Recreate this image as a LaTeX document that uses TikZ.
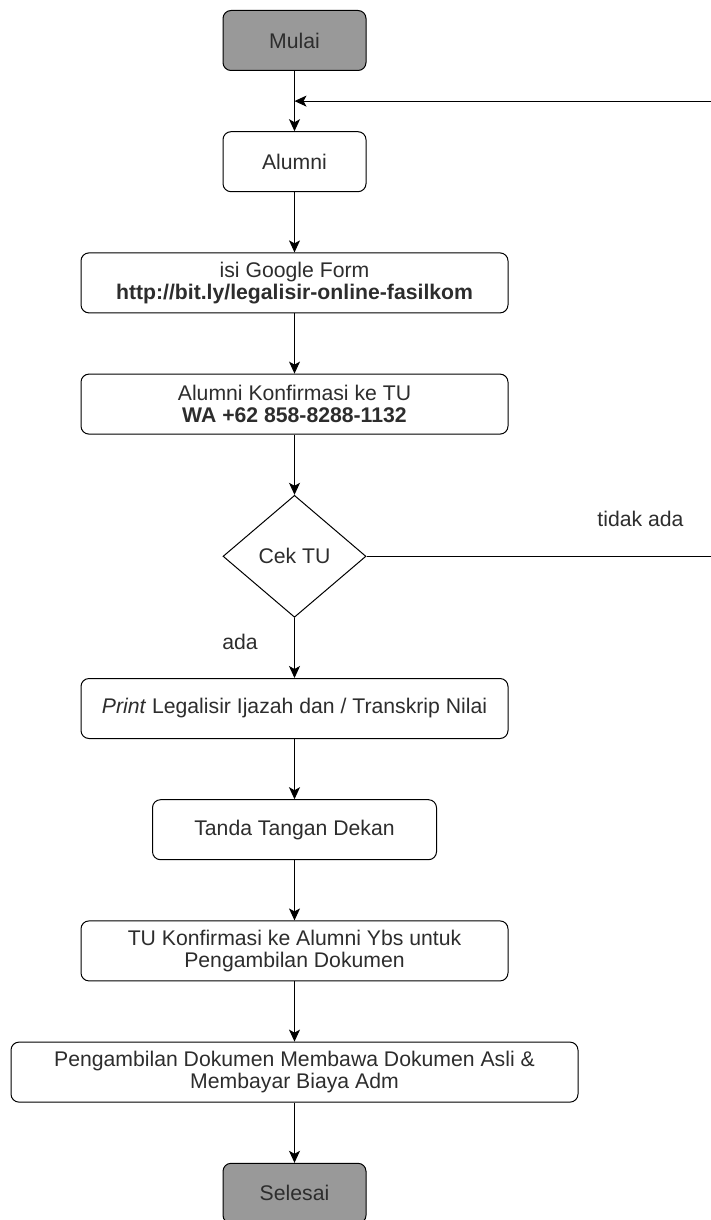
\documentclass[tikz,border=0pt]{standalone}
\usepackage{fontspec}
\setmainfont{Liberation Sans}
\usetikzlibrary{positioning, arrows.meta, calc, shapes.geometric}
\definecolor{FlowGray}{RGB}{153, 153, 153}
\definecolor{FlowText}{RGB}{45, 45, 45}
\definecolor{FlowLine}{RGB}{0, 0, 0}

\begin{document}
\begin{tikzpicture}[
    % Global Styles
    node distance=60.2pt,
    box/.style={
        rectangle,
        rounded corners=8pt,
        draw=FlowLine,         % Black Border
        line width=1pt,
        fill=white,
        text=FlowText,         % Dark Grey Text
        align=center,
        inner sep=0pt,
        minimum height=60pt,
        minimum width=427pt,
        font=\fontsize{21.2}{22}\selectfont
    },
    terminal/.style={
        box,
        fill=FlowGray,         % Grey Start / End
        minimum width=143pt
    },
    decision/.style={
        diamond,
        draw=FlowLine,
        line width=1pt,
        fill=white,
        text=FlowText,
        inner sep=0pt,
        minimum width=143pt,
        minimum height=122pt,
        font=\fontsize{21.2}{22}\selectfont
    },
    arrow/.style={
        ->,
        >={Stealth[length=12pt,width=11pt,inset=3pt]},
        line width=1pt,
        draw=FlowLine
    },
    edge_label/.style={
        text=FlowText,
        inner sep=0pt,
        font=\fontsize{21.2}{22}\selectfont
    }
]

    % page frame
    \useasboundingbox (0pt,0pt) rectangle (711pt,-1220pt);
    \clip (0pt,0pt) rectangle (711pt,-1220pt);

    % --- Placement of Nodes ---

    \node[terminal] (mulai) at (294.5pt,-40.5pt) {Mulai};
    \node[box, minimum width=143pt, below=of mulai] (alumni) {Alumni};
    \node[box, below=of alumni] (form) {isi Google Form\\\textbf{http://bit.ly/legalisir-online-fasilkom}};
    \node[box, below=of form] (konfirmasi) {Alumni Konfirmasi ke TU\\\textbf{WA +62 858-8288-1132}};
    \node[decision, below=of konfirmasi] (cek) {Cek TU};
    \node[box, below=of cek] (print) {\textit{Print} Legalisir Ijazah dan / Transkrip Nilai};
    \node[box, minimum width=284pt, below=of print] (ttd) {Tanda Tangan Dekan};
    \node[box, below=of ttd] (tu_info) {TU Konfirmasi ke Alumni Ybs untuk\\Pengambilan Dokumen};
    \node[box, minimum width=567pt, below=of tu_info] (ambil) {Pengambilan Dokumen Membawa Dokumen Asli \&\\Membayar Biaya Adm};
    \node[terminal, below=of ambil] (selesai) {Selesai};

    % Branch labels
    \node[edge_label] (ada) at ($(cek.south)+(-54.5pt,-24pt)$) {ada};
    \node[edge_label] (tidak) at ($(cek.east)+(274pt,37pt)$) {tidak ada};

    % Return point (between Mulai and Alumni) and right margin
    \coordinate (kembali) at ($(mulai.south)!0.5!(alumni.north)$);
    \coordinate (tepi) at (712pt,0pt);

    % --- Connections ---

    \draw[arrow] (mulai) -- (alumni);
    \draw[arrow] (alumni) -- (form);
    \draw[arrow] (form) -- (konfirmasi);
    \draw[arrow] (konfirmasi) -- (cek);

    % 1. Cek TU -> print (ada)
    \draw[arrow] (cek) -- (print);

    % 2. Cek TU -> back to Alumni (tidak ada)
    \draw[arrow] (cek.east) -- (cek.east -| tepi) |- (kembali);

    \draw[arrow] (print) -- (ttd);
    \draw[arrow] (ttd) -- (tu_info);
    \draw[arrow] (tu_info) -- (ambil);
    \draw[arrow] (ambil) -- (selesai);

\end{tikzpicture}
\end{document}
